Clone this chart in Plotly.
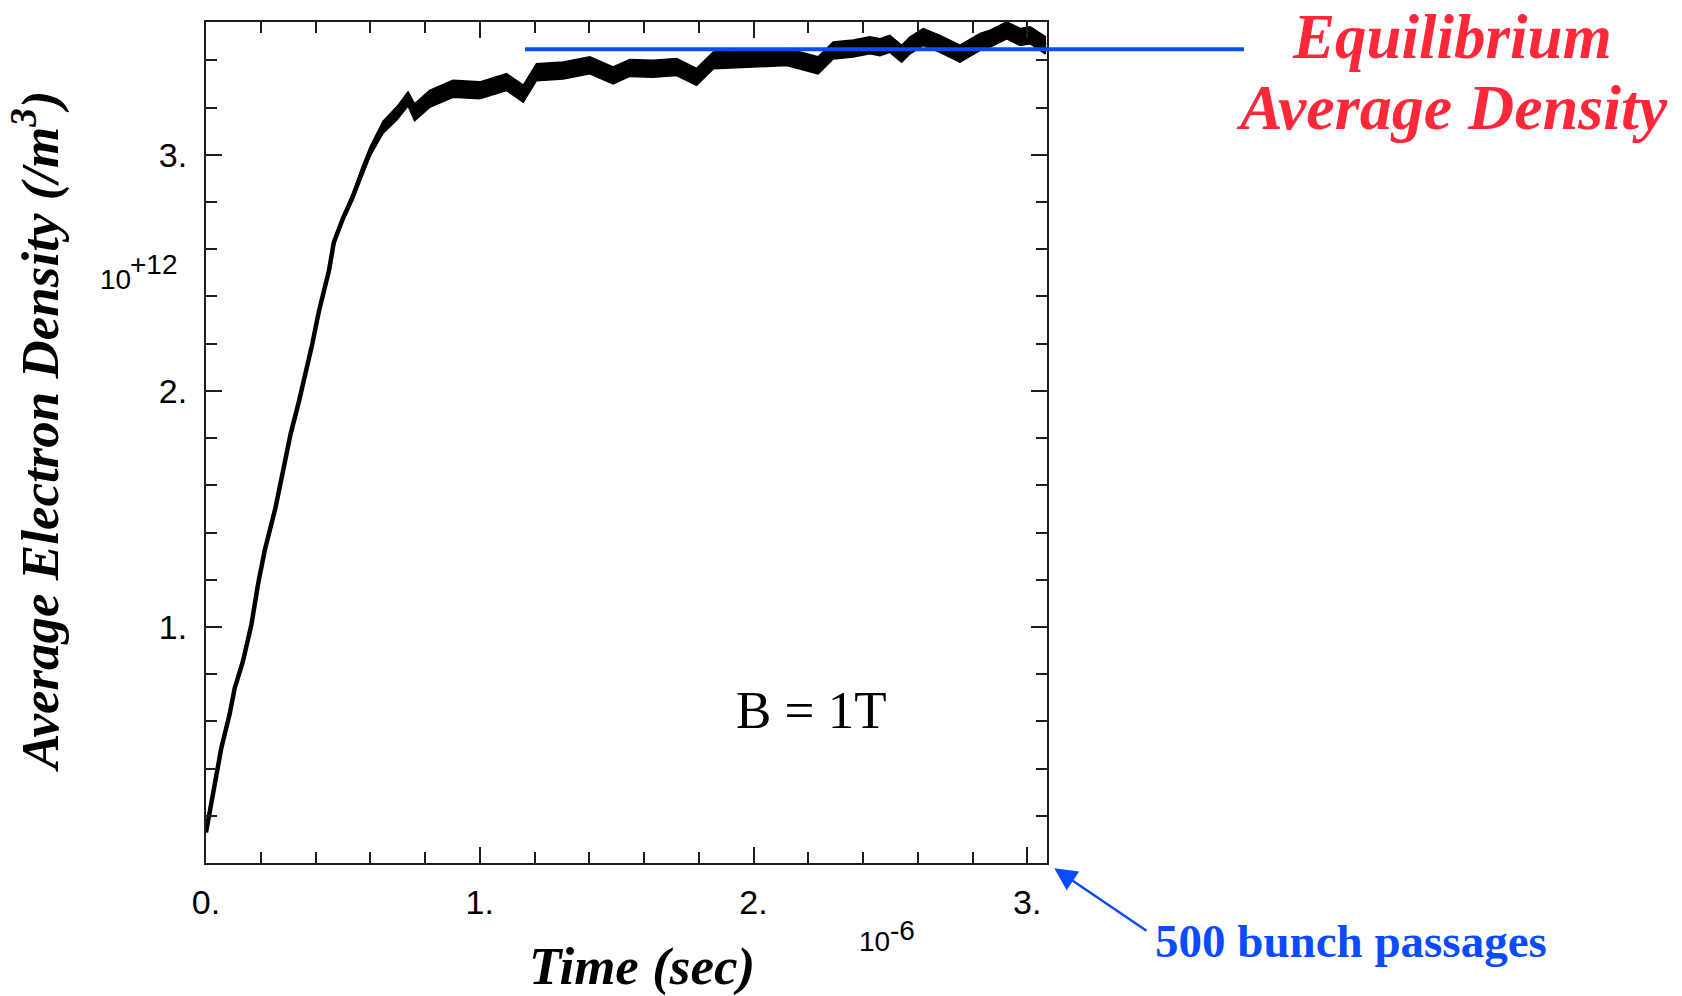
import plotly.graph_objects as go

# ---------------- data (x in 1e-6 s, y in 1e+12 /m^3) ----------------
time_us = [0.000, 0.011, 0.038, 0.056, 0.086, 0.105, 0.135, 0.166, 0.190, 0.214,
           0.254, 0.285, 0.309, 0.340, 0.364, 0.388, 0.413, 0.449, 0.467, 0.500,
           0.535, 0.571, 0.602, 0.647, 0.696, 0.738, 0.762, 0.817, 0.902, 1.000,
           1.098, 1.159, 1.207, 1.305, 1.402, 1.487, 1.548, 1.633, 1.719, 1.792,
           1.853, 1.999, 2.121, 2.236, 2.291, 2.364, 2.425, 2.462, 2.498, 2.541,
           2.572, 2.620, 2.681, 2.754, 2.828, 2.864, 2.925, 2.974, 3.011, 3.066]
density_e12 = [0.13, 0.205, 0.39, 0.488, 0.629, 0.742, 0.855, 1.011, 1.181, 1.322,
               1.506, 1.675, 1.817, 1.958, 2.071, 2.198, 2.34, 2.509, 2.629, 2.73,
               2.82, 2.933, 3.02, 3.117, 3.174, 3.237, 3.18, 3.237, 3.28, 3.273,
               3.308, 3.259, 3.35, 3.357, 3.379, 3.336, 3.368, 3.365, 3.372, 3.33,
               3.40, 3.407, 3.414, 3.379, 3.442, 3.45, 3.464, 3.456, 3.47, 3.428,
               3.464, 3.499, 3.47, 3.428, 3.478, 3.492, 3.527, 3.499, 3.506, 3.464]
# half-thickness of the noisy band
noise_half_e12 = [0.0] * 17 + [0.008, 0.010, 0.012, 0.015, 0.018, 0.020, 0.025, 0.028, 0.030] + [0.036] * 34

equilibrium_level_e12 = 3.447
equilibrium_start_us = 1.165

x_tick_vals = [0, 1, 2, 3]
x_tick_text = ["0.", "1.", "2.", "3."]
y_tick_vals = [1, 2, 3]
y_tick_text = ["1.", "2.", "3."]

X_RANGE = [0.0, 3.072]
Y_RANGE = [0.0005, 3.5625]

# ---------------- geometry ----------------
FW, FH = 1682, 996
L, T, R, B = 206, 22, 635, 133
PW, PH = FW - L - R, FH - T - B


def px(xp):
    return (xp - L) / PW


def py(yp):
    return 1 - (yp - T) / PH


AXC = "rgb(30,30,30)"
RED = "rgb(255,40,58)"
BLUE = "rgb(10,75,255)"
SERIF = "Liberation Serif, Times New Roman, serif"
SANS = "Liberation Sans, Arial, Helvetica, sans-serif"

fig = go.Figure()

# noisy band
band_x = time_us + time_us[::-1]
band_y = [c + h for c, h in zip(density_e12, noise_half_e12)] + \
         [c - h for c, h in zip(density_e12, noise_half_e12)][::-1]
fig.add_trace(go.Scatter(x=band_x, y=band_y, mode="lines", fill="toself",
                         fillcolor="black", line=dict(color="black", width=1.5),
                         hoverinfo="skip", showlegend=False))
fig.add_trace(go.Scatter(x=time_us, y=density_e12, mode="lines",
                         line=dict(color="black", width=4.5), showlegend=False))

# equilibrium line (extends past the frame)
yd = (equilibrium_level_e12 - Y_RANGE[0]) / (Y_RANGE[1] - Y_RANGE[0])
xd0 = (equilibrium_start_us - X_RANGE[0]) / (X_RANGE[1] - X_RANGE[0])
fig.add_shape(type="line", xref="x domain", yref="y domain",
              x0=xd0, x1=px(1244), y0=yd, y1=yd,
              line=dict(color=BLUE, width=4), layer="above")

axis_common = dict(showline=True, linecolor=AXC, linewidth=2, mirror="allticks",
                   ticks="inside", ticklen=16, tickwidth=2, tickcolor=AXC,
                   showgrid=False, zeroline=False,
                   tickfont=dict(family=SANS, size=34, color="black"),
                   minor=dict(ticks="inside", ticklen=11, tickwidth=2, tickcolor=AXC,
                              dtick=0.2, tick0=0, showgrid=False))

fig.update_xaxes(range=X_RANGE, tickmode="array", tickvals=x_tick_vals,
                 ticktext=x_tick_text, ticklabelstandoff=8, **axis_common)
fig.update_yaxes(range=Y_RANGE, tickmode="array", tickvals=y_tick_vals,
                 ticktext=y_tick_text, ticklabelstandoff=10, **axis_common)

ann = []


def text(x, y, s, size, family, color="black", weight="normal", style="normal",
         xanchor="center", yanchor="middle", angle=0):
    ann.append(dict(x=px(x), y=py(y), xref="paper", yref="paper", text=s,
                    showarrow=False, xanchor=xanchor, yanchor=yanchor,
                    textangle=angle,
                    font=dict(family=family, size=size, color=color,
                              weight=weight, style=style)))


text(1452, 37, "Equilibrium", 63, SERIF, RED, "bold", "italic")
text(1452, 108, "Average Density", 64, SERIF, RED, "bold", "italic")
text(1351, 941, "500 bunch passages", 47, SERIF, BLUE, "bold")
text(811, 710, "B = 1T", 53, SERIF)
text(642, 966, "Time (sec)", 53, SERIF, weight="bold", style="italic")
text(36, 431, "Average Electron Density (/m<sup>3</sup>)", 53, SERIF,
     weight="bold", style="italic", angle=-90)
text(98, 279, "10", 28, SANS, xanchor="left")
text(128, 264, "+12", 28, SANS, xanchor="left")
text(857, 941, "10", 28, SANS, xanchor="left")
text(888, 930, "-6", 28, SANS, xanchor="left")

ann.append(dict(x=px(1054.3), y=py(868.3), xref="paper", yref="paper",
                ax=93.7, ay=63.4, axref="pixel", ayref="pixel", text="",
                showarrow=True, arrowhead=2, arrowsize=1.8, arrowwidth=2.5,
                arrowcolor=BLUE, standoff=0))

fig.update_layout(width=FW, height=FH, margin=dict(l=L, r=R, t=T, b=B),
                  paper_bgcolor="white", plot_bgcolor="white",
                  showlegend=False, annotations=ann)

fig.write_html("out.html")
